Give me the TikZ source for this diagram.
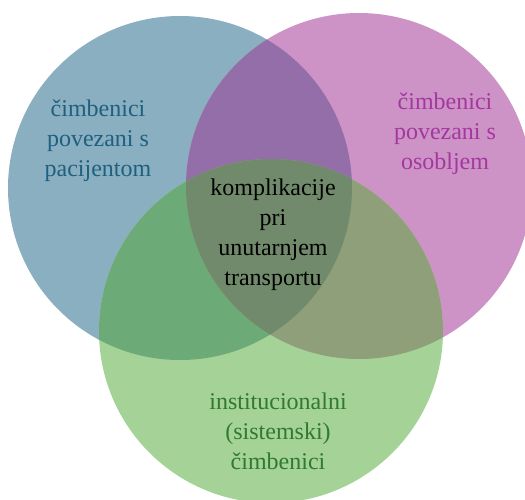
\documentclass[tikz,border=0pt]{standalone}
\usepackage{fontspec}
\setmainfont{Liberation Serif}
\definecolor{cB}{HTML}{8AAFC0}
\definecolor{cP}{HTML}{CD93C6}
\definecolor{cG}{HTML}{A5D296}
\definecolor{cBP}{HTML}{946EA8}
\definecolor{cBG}{HTML}{6CAB78}
\definecolor{cPG}{HTML}{8F9F7A}
\definecolor{cBPG}{HTML}{728A6C}
\definecolor{tB}{HTML}{1F6080}
\definecolor{tP}{HTML}{A4379F}
\definecolor{tG}{HTML}{2F7A30}
\tikzset{lbl/.style={align=center,font=\fontsize{24}{30}\selectfont,inner sep=0pt}}
\newcommand{\circB}{(180,188) circle[radius=172pt]}
\newcommand{\circP}{(359,186) circle[radius=173pt]}
\newcommand{\circG}{(271,331) circle[radius=172pt]}
\begin{document}
\begin{tikzpicture}[x=1pt,y=-1pt]
\useasboundingbox (0,0) rectangle (525,499);
\begin{scope}
\clip (0,0) rectangle (525,499);
\fill[cB] \circB;
\fill[cP] \circP;
\fill[cG] \circG;
\begin{scope}\clip \circB; \fill[cBP] \circP; \fill[cBG] \circG; \end{scope}
\begin{scope}\clip \circP; \fill[cPG] \circG; \end{scope}
\begin{scope}\clip \circB; \clip \circP; \fill[cBPG] \circG; \end{scope}
\end{scope}
\node[lbl,text=tB] (blue) at (98,141) {čimbenici\\povezani s\\pacijentom};
\node[lbl,text=tP] (pink) at (445,134) {čimbenici\\povezani s\\osobljem};
\node[lbl,text=black] (center) at (273,235) {komplikacije\\pri\\unutarnjem\\transportu};
\node[lbl,text=tG] (green) at (278,431) {institucionalni\\(sistemski)\\čimbenici};
\end{tikzpicture}
\end{document}
